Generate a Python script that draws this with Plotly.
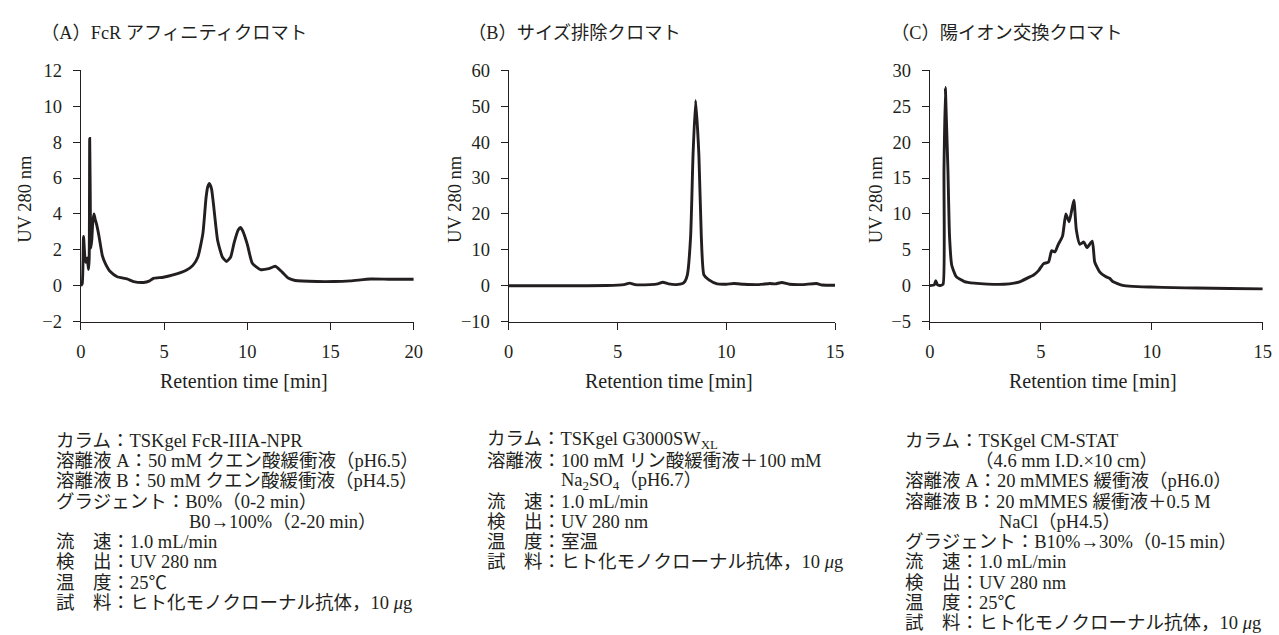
import plotly.graph_objects as go

# ---------------- data ----------------
a_time = [0, 0.08, 0.16, 0.24, 0.3, 0.38, 0.46, 0.5, 0.53, 0.56, 0.6, 0.66, 0.72, 0.79, 0.86, 0.95,
          1.09, 1.29, 1.48, 1.78, 2.18, 2.77, 3.17, 3.76, 4.1, 4.36, 4.95, 5.54, 6.33, 6.73, 7.03,
          7.33, 7.52, 7.62, 7.72, 7.85, 7.96, 8.22, 8.5, 8.75, 9.0, 9.21, 9.45, 9.6, 9.75, 10.0, 10.3,
          10.79, 11.29, 11.68, 12.08, 12.48, 12.87, 14.2, 15.2, 16.2, 17.4, 18.5, 20]
a_uv = [0, 0.1, 2.75, 1.6, 1.3, 1.55, 0.9, 1.5, 8.2, 5.5, 2.1, 2.6, 3.6, 4.0, 3.7, 3.4,
        2.76, 1.68, 1.22, 0.77, 0.5, 0.38, 0.23, 0.18, 0.25, 0.41, 0.47, 0.6, 0.86, 1.13, 1.6,
        2.9, 4.9, 5.5, 5.7, 5.4, 4.6, 2.5, 1.6, 1.35, 1.6, 2.4, 3.1, 3.24, 3.0, 2.3, 1.25,
        0.9, 0.95, 1.08, 0.77, 0.41, 0.29, 0.23, 0.23, 0.27, 0.37, 0.36, 0.36]

b_time = [0, 4.5, 5.3, 5.56, 5.8, 6.5, 6.85, 7.08, 7.35, 7.7, 7.99, 8.1, 8.21, 8.36, 8.47, 8.59,
          8.74, 8.85, 8.97, 9.2, 9.58, 10.0, 10.35, 10.8, 11.5, 12.0, 12.25, 12.55, 12.9, 13.5,
          14.14, 14.4, 15]
b_uv = [0, 0.05, 0.3, 0.7, 0.3, 0.3, 0.5, 0.95, 0.5, 0.3, 0.6, 1.2, 3.0, 13.8, 36.3, 51.6,
        36.3, 13.8, 3.0, 1.6, 0.5, 0.4, 0.6, 0.4, 0.3, 0.6, 0.5, 0.9, 0.4, 0.3,
        0.6, 0.2, 0.1]

c_time = [0, 0.2, 0.27, 0.35, 0.5, 0.6, 0.64, 0.70, 0.76, 0.82, 0.89, 0.99, 1.19, 1.56, 2.0, 2.6,
          3.34, 3.8, 4.08, 4.53, 4.68, 4.9, 5.12, 5.35, 5.49, 5.64, 5.79, 5.98, 6.13, 6.28, 6.49,
          6.6, 6.76, 6.94, 7.08, 7.32, 7.43, 7.65, 7.9, 8.1, 8.24, 8.69, 9.13, 9.95, 11, 12, 13.5, 15]
c_uv = [0, 0.1, 0.68, 0.1, 0.05, 0.2, 15.9, 27.6, 22, 15.9, 6.9, 2.84, 1.26, 0.58, 0.35, 0.22,
        0.2, 0.35, 0.58, 1.26, 1.49, 2.1, 3.05, 3.3, 4.86, 4.7, 5.76, 6.9, 10.0, 8.9, 11.9,
        7.8, 5.76, 6.08, 5.3, 6.2, 3.3, 1.93, 1.3, 1.03, 0.58, 0.04, -0.1, -0.19, -0.27, -0.33, -0.4, -0.45]

a_xticks = [0, 5, 10, 15, 20]
a_yticks = [-2, 0, 2, 4, 6, 8, 10, 12]
b_xticks = [0, 5, 10, 15]
b_yticks = [-10, 0, 10, 20, 30, 40, 50, 60]
c_xticks = [0, 5, 10, 15]
c_yticks = [-5, 0, 5, 10, 15, 20, 25, 30]

titles = ["（A）FcR アフィニティクロマト", "（B）サイズ排除クロマト", "（C）陽イオン交換クロマト"]
x_title = "Retention time [min]"
y_title = "UV 280 nm"

a_notes = [
    "カラム：TSKgel FcR-IIIA-NPR",
    "溶離液 A：50 mM クエン酸緩衝液（pH6.5）",
    "溶離液 B：50 mM クエン酸緩衝液（pH4.5）",
    "グラジェント：B0%（0-2 min）",
    "B0→100%（2-20 min）",
    "流　速：1.0 mL/min",
    "検　出：UV 280 nm",
    "温　度：25℃",
    "試　料：ヒト化モノクローナル抗体，10 <i>μ</i>g",
]
b_notes = [
    "カラム：TSKgel G3000SW<sub>XL</sub>",
    "溶離液：100 mM リン酸緩衝液＋100 mM",
    "Na<sub>2</sub>SO<sub>4</sub>（pH6.7）",
    "流　速：1.0 mL/min",
    "検　出：UV 280 nm",
    "温　度：室温",
    "試　料：ヒト化モノクローナル抗体，10 <i>μ</i>g",
]
c_notes = [
    "カラム：TSKgel CM-STAT",
    "（4.6 mm I.D.×10 cm）",
    "溶離液 A：20 mMMES 緩衝液（pH6.0）",
    "溶離液 B：20 mMMES 緩衝液＋0.5 M",
    "NaCl（pH4.5）",
    "グラジェント：B10%→30%（0-15 min）",
    "流　速：1.0 mL/min",
    "検　出：UV 280 nm",
    "温　度：25℃",
    "試　料：ヒト化モノクローナル抗体，10 <i>μ</i>g",
]

# ---------------- layout geometry (pixels) ----------------
W, H = 1279, 635
INK = "#231f20"
FONT = "Liberation Serif, 'Times New Roman', 'Noto Sans CJK JP', serif"

panels = [
    dict(t=a_time, v=a_uv, xr=[0, 20], yr=[-2, 12], xt=a_xticks, yt=a_yticks, x0=76.7, x1=413.3,
         title_x=34, ytitle_x=20, notes=a_notes, notes_x=50, indents={4: 184}),
    dict(t=b_time, v=b_uv, xr=[0, 15], yr=[-10, 60], xt=b_xticks, yt=b_yticks, x0=509.3, x1=839.3,
         title_x=466, ytitle_x=455, notes=b_notes, notes_x=485, indents={2: 560}),
    dict(t=c_time, v=c_uv, xr=[0, 15], yr=[-5, 30], xt=c_xticks, yt=c_yticks, x0=935, x1=1271.7,
         title_x=894, ytitle_x=880, notes=c_notes, notes_x=908, indents={1: 979, 4: 1003}),
]
Y_TOP, Y_BOT = 62.3, 321.7


def px_x(p):
    return p / W


def px_y(p):
    return 1 - p / H


fig = go.Figure()
annotations = []
layout_axes = {}
for i, p in enumerate(panels):
    n = "" if i == 0 else str(i + 1)
    fig.add_trace(go.Scatter(
        x=p["t"], y=p["v"], mode="lines",
        line=dict(color=INK, width=2.9, shape="spline", smoothing=0.5),
        xaxis="x" + n, yaxis="y" + n, showlegend=False, hoverinfo="skip"))
    axis_common = dict(showgrid=False, zeroline=False, showline=True, linecolor=INK, linewidth=1.3,
                       ticks="outside", ticklen=7, tickwidth=1.3, tickcolor=INK,
                       tickfont=dict(family=FONT, size=18.5, color=INK), fixedrange=True)
    layout_axes["xaxis" + n] = dict(axis_common, range=p["xr"], tickvals=p["xt"],
                                    domain=[px_x(p["x0"]), px_x(p["x1"])], anchor="y" + n,
                                    ticklabelstandoff=6)
    layout_axes["yaxis" + n] = dict(axis_common, range=p["yr"], tickvals=p["yt"],
                                    domain=[px_y(Y_BOT), px_y(Y_TOP)], anchor="x" + n,
                                    ticklabelstandoff=7)
    # panel title
    annotations.append(dict(text=titles[i], x=px_x(p["title_x"]), y=px_y(24), xref="paper", yref="paper",
                            xanchor="left", yanchor="middle", showarrow=False,
                            font=dict(family=FONT, size=18.3, color=INK)))
    # axis titles
    annotations.append(dict(text=x_title, x=px_x((p["x0"] + p["x1"]) / 2 - 3), y=px_y(383),
                            xref="paper", yref="paper", xanchor="center", yanchor="middle",
                            showarrow=False, font=dict(family=FONT, size=20, color=INK)))
    annotations.append(dict(text=y_title, x=px_x(p["ytitle_x"]), y=px_y(195), textangle=-90,
                            xref="paper", yref="paper", xanchor="center", yanchor="middle",
                            showarrow=False, font=dict(family=FONT, size=18.5, color=INK)))
    # condition notes
    for k, line in enumerate(p["notes"]):
        xpos = p["indents"].get(k, p["notes_x"])
        annotations.append(dict(text=line, x=px_x(xpos), y=px_y(445 + 20.9 * k),
                                xref="paper", yref="paper", xanchor="left", yanchor="middle",
                                showarrow=False, font=dict(family=FONT, size=18.5, color=INK)))

fig.update_layout(
    width=W, height=H, margin=dict(l=0, r=0, t=0, b=0),
    paper_bgcolor="white", plot_bgcolor="white",
    annotations=annotations, **layout_axes)

fig.write_html("out.html", config={"displayModeBar": False},
               post_script="document.body.style.margin='0';document.body.style.overflow='hidden';")
